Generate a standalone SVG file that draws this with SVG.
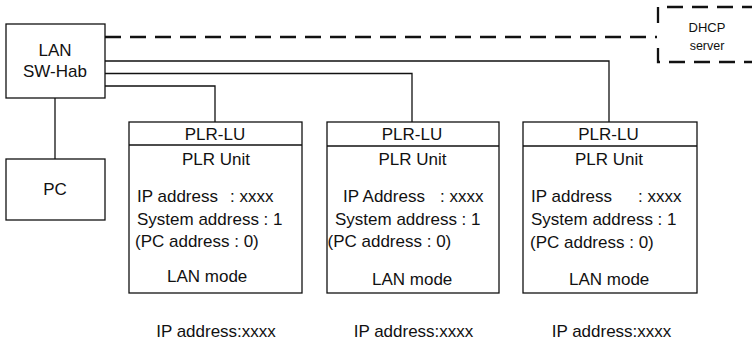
<svg xmlns="http://www.w3.org/2000/svg" width="752" height="340" viewBox="0 0 752 340">
<style>
text{font-family:"Liberation Sans",Arial,sans-serif;font-size:17px;fill:#111}
.c{text-anchor:middle}
.box{fill:#fff;stroke:#111;stroke-width:1.3}
.ln{fill:none;stroke:#111;stroke-width:1.3}
.dash{fill:none;stroke:#111;stroke-width:2.3;stroke-dasharray:16 9}
.sm{font-size:13px}
</style>
<rect width="752" height="340" fill="#fff"/>
<g id="connectors">
<path class="dash" d="M105,37 H657"/>
<path class="ln" d="M105,86 H215 V122"/>
<path class="ln" d="M105,73.5 H412 V122"/>
<path class="ln" d="M105,61 H609 V122"/>
<path class="ln" d="M55,98 V159"/>
</g>
<g id="dhcp">
<path class="dash" d="M658,23 V7 H760 M760,62 H658 V45"/>
<text class="c sm" x="707" y="32">DHCP</text>
<text class="c sm" x="707" y="50" style="font-size:12.5px">server</text>
</g>
<g id="lan-sw">
<rect class="box" x="6" y="24" width="99" height="74"/>
<text class="c" x="55" y="56">LAN</text>
<text class="c" x="55" y="77">SW-Hab</text>
</g>
<g id="pc">
<rect class="box" x="6" y="159" width="99" height="61"/>
<text class="c" x="55" y="195">PC</text>
</g>
<g id="plr1">
<rect class="box" x="129" y="122" width="173" height="171"/>
<line class="ln" x1="129" y1="145" x2="302" y2="145"/>
<text class="c" x="215" y="140">PLR-LU</text>
<text class="c" x="216" y="165">PLR Unit</text>
<text x="137" y="201.5">IP address<tspan x="230">: xxxx</tspan></text>
<text x="137" y="225">System address : 1</text>
<text x="135" y="247">(PC address : 0)</text>
<text x="167" y="282">LAN mode</text>
</g>
<g id="plr2">
<rect class="box" x="327" y="122" width="172" height="171"/>
<line class="ln" x1="327" y1="146" x2="499" y2="146"/>
<text class="c" x="412" y="140">PLR-LU</text>
<text class="c" x="412.5" y="165">PLR Unit</text>
<text x="343" y="201.5">IP Address<tspan x="440">: xxxx</tspan></text>
<text x="335" y="225">System address : 1</text>
<text x="327.5" y="247">(PC address : 0)</text>
<text x="372" y="285">LAN mode</text>
</g>
<g id="plr3">
<rect class="box" x="523" y="122" width="174" height="171"/>
<line class="ln" x1="523" y1="146" x2="697" y2="146"/>
<text class="c" x="608.5" y="140">PLR-LU</text>
<text class="c" x="609" y="165">PLR Unit</text>
<text x="531" y="201.5">IP address<tspan x="638">: xxxx</tspan></text>
<text x="531" y="225">System address : 1</text>
<text x="530" y="248">(PC address : 0)</text>
<text x="569" y="285">LAN mode</text>
</g>
<g id="labels">
<text class="c" x="216" y="337">IP address:xxxx</text>
<text class="c" x="413.5" y="337">IP address:xxxx</text>
<text class="c" x="611.5" y="337">IP address:xxxx</text>
</g>
</svg>
